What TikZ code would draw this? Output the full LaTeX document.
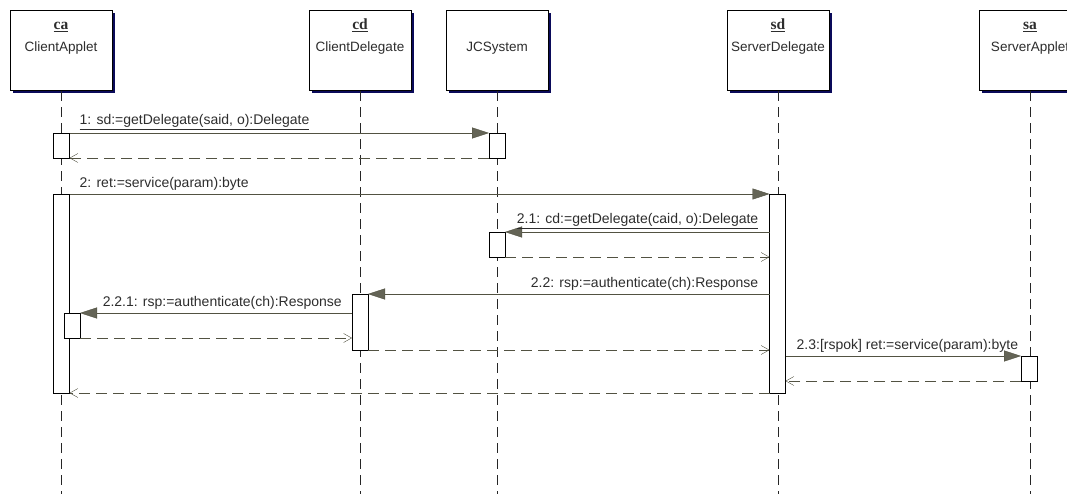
\documentclass[tikz,border=0pt]{standalone}
\usepackage{fontspec}
\setmainfont{Liberation Sans}
\newfontfamily\objfont{Liberation Serif}
\usetikzlibrary{arrows.meta,shadows}

\definecolor{msgline}{RGB}{82,82,66}
\definecolor{tipfill}{RGB}{100,100,86}
\definecolor{txtgray}{RGB}{45,45,45}
\definecolor{shadownavy}{RGB}{10,10,90}

\tikzset{
  objbox/.style={draw, fill=white, minimum width=102pt, minimum height=80pt, inner sep=0pt,
    drop shadow={shadow xshift=3pt, shadow yshift=-3pt, fill=shadownavy, opacity=1}},
  objtxt/.style={align=center, font=\fontsize{13.5}{22}\selectfont, text=txtgray, inner sep=0pt},
  lifeline/.style={draw=black!85, dash pattern=on 10pt off 6pt},
  act/.style={draw, fill=white, minimum width=16pt, inner sep=0pt, outer sep=0pt},
  call/.style={draw=msgline, -{Triangle[length=17pt,width=11pt,fill=tipfill]}},
  reply/.style={draw=msgline, dash pattern=on 11pt off 6pt, -{Straight Barb[length=8pt,width=9pt]}},
  msgtxt/.style={font=\fontsize{14}{16}\selectfont, text=txtgray, inner sep=1pt},
}

\begin{document}
\begin{tikzpicture}[x=1pt, y=-1pt]
\useasboundingbox (0,0) rectangle (1067,494);
\clip (0,0) rectangle (1067,494);

% objects
\node[objbox] (ca) at (61,50) {};
\node[objbox] (cd) at (360,50) {};
\node[objbox] (jc) at (497,50) {};
\node[objbox] (sd) at (778,50) {};
\node[objbox] (sa) at (1030,50) {};
\node[objtxt, anchor=north] (caT) at ([yshift=-4pt]ca.north) {\strut{\objfont\bfseries\fontsize{15.5}{16}\selectfont\underline{ca}}\\ClientApplet};
\node[objtxt, anchor=north] (cdT) at ([yshift=-4pt]cd.north) {\strut{\objfont\bfseries\fontsize{15.5}{16}\selectfont\underline{cd}}\\ClientDelegate};
\node[objtxt, anchor=north] (jcT) at ([yshift=-4pt]jc.north) {\strut\\JCSystem};
\node[objtxt, anchor=north] (sdT) at ([yshift=-4pt]sd.north) {\strut{\objfont\bfseries\fontsize{15.5}{16}\selectfont\underline{sd}}\\ServerDelegate};
\node[objtxt, anchor=north] (saT) at ([yshift=-4pt]sa.north) {\strut{\objfont\bfseries\fontsize{15.5}{16}\selectfont\underline{sa}}\\ServerApplet};

% lifelines
\coordinate (bottom) at (0,494);
\foreach \o in {ca,cd,jc,sd,sa}
  \draw[lifeline] ([yshift=-1pt]\o.south) -- (\o.south |- bottom);

% activations
\node[act, minimum height=25pt, anchor=north] (caA1) at (61.5,133) {};
\node[act, minimum height=25pt, anchor=north] (jcA1) at (497,133) {};
\node[act, minimum height=199pt, anchor=north] (caA2) at (61.5,194) {};
\node[act, minimum height=199pt, anchor=north] (sdA) at (777.5,194) {};
\node[act, minimum height=25pt, anchor=north] (jcA2) at (497,232) {};
\node[act, minimum height=56pt, anchor=north] (cdA) at (360,294) {};
\node[act, minimum height=25pt, anchor=north] (caA3) at (72,313) {};
\node[act, minimum height=25pt, anchor=north] (saA) at (1029,356) {};

% messages
\draw[call] (caA1.north east) -- (jcA1.north west)
  node[msgtxt, pos=0, anchor=south west, xshift=9pt, yshift=2pt] {\underline{1: sd:=getDelegate(said, o):Delegate}};
\draw[reply] (jcA1.south west) -- (caA1.south east);

\draw[call] (caA2.north east) -- (sdA.north west)
  node[msgtxt, pos=0, anchor=south west, xshift=9pt, yshift=2pt] {2: ret:=service(param):byte};

\draw[call] (sdA.west |- jcA2.north) -- (jcA2.north east)
  node[msgtxt, pos=0, anchor=south east, xshift=-10pt, yshift=2pt] {\underline{2.1: cd:=getDelegate(caid, o):Delegate}};
\draw[reply] (jcA2.south east) -- (sdA.west |- jcA2.south);

\draw[call] (sdA.west |- cdA.north) -- (cdA.north east)
  node[msgtxt, pos=0, anchor=south east, xshift=-10pt, yshift=2pt] {2.2: rsp:=authenticate(ch):Response};

\draw[call] (cdA.west |- caA3.north) -- (caA3.north east)
  node[msgtxt, pos=0, anchor=south east, xshift=-9pt, yshift=2pt] {2.2.1: rsp:=authenticate(ch):Response};
\draw[reply] (caA3.south east) -- (cdA.west |- caA3.south);
\draw[reply] (cdA.south east) -- (sdA.west |- cdA.south);

\draw[call] (sdA.east |- saA.north) -- (saA.north west)
  node[msgtxt, pos=0, anchor=south west, xshift=10pt, yshift=2pt] {2.3:[rspok] ret:=service(param):byte};
\draw[reply] (saA.south west) -- (sdA.east |- saA.south);

\draw[reply] (sdA.south west) -- (caA2.south east);
\end{tikzpicture}
\end{document}
